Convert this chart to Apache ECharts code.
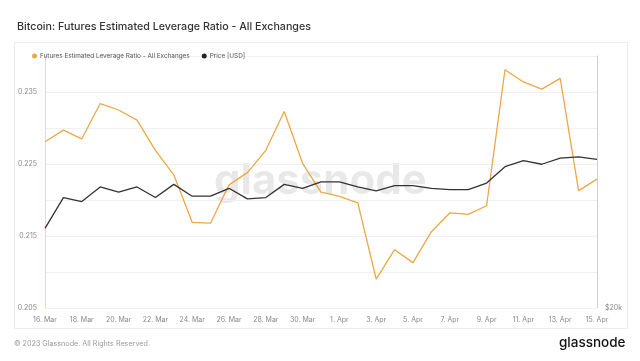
<!DOCTYPE html>
<html>
<head>
<meta charset="utf-8">
<script src="https://cdn.jsdelivr.net/npm/echarts@6/dist/echarts.min.js"></script>
<style>
html,body{margin:0;padding:0;background:#fff;}
#chart{width:640px;height:361px;}
</style>
</head>
<body>
<div id="chart"></div>
<script>
var dates = ['16. Mar','17. Mar','18. Mar','19. Mar','20. Mar','21. Mar','22. Mar','23. Mar','24. Mar','25. Mar','26. Mar','27. Mar','28. Mar','29. Mar','30. Mar','31. Mar','1. Apr','2. Apr','3. Apr','4. Apr','5. Apr','6. Apr','7. Apr','8. Apr','9. Apr','10. Apr','11. Apr','12. Apr','13. Apr','14. Apr','15. Apr'];
var leverage = [0.2281,0.2297,0.2285,0.2334,0.2325,0.2311,0.2269,0.2235,0.2169,0.2168,0.2221,0.2238,0.2269,0.2323,0.2251,0.2211,0.2205,0.2196,0.2090,0.2131,0.2113,0.2156,0.2182,0.2180,0.2192,0.2381,0.2364,0.2354,0.2369,0.2213,0.2229];
var price = [24900,27100,26800,27900,27500,27900,27100,28100,27200,27200,27800,27000,27100,28100,27800,28300,28300,27900,27600,28000,28000,27800,27700,27700,28200,29500,30000,29700,30200,30300,30100];
var leftTicks = ['0.205','0.215','0.225','0.235'];
var rightTicks = ['$20k'];

var chart = echarts.init(document.getElementById('chart'), null, {renderer:'canvas'});
var font = 'Inter, "Noto Sans", sans-serif';
chart.setOption({
  backgroundColor:'#fff',
  animation:false,
  textStyle:{fontFamily:font},
  title:{
    text:'Bitcoin: Futures Estimated Leverage Ratio - All Exchanges',
    left:12, top:16,
    textStyle:{fontSize:10.7, fontWeight:500, color:'#333', fontFamily:font}
  },
  legend:{
    left:27, top:48,
    icon:'circle', itemWidth:5, itemHeight:5, itemGap:12,
    textStyle:{fontSize:6.4, color:'#555', padding:[0,0,0,-2]},
    data:['Futures Estimated Leverage Ratio - All Exchanges','Price [USD]']
  },
  graphic:[
    {type:'rect', z:-10, shape:{x:14.5,y:42.5,width:613,height:286}, style:{fill:'none', stroke:'#ececec', lineWidth:1}},
    {type:'text', z:0, left:214, top:160, style:{text:'glassnode', fontSize:42, fontWeight:'bold', fill:'rgba(0,0,0,0.09)', fontFamily:font}},
    {type:'text', left:14, top:340, style:{text:'\u00a9 2023 Glassnode. All Rights Reserved.', fontSize:7.2, fill:'#9a9a9a', fontFamily:font}},
    {type:'text', left:559, top:336, style:{text:'glassnode', fontSize:13.5, fontWeight:500, fill:'#111', fontFamily:font}}
  ],
  grid:{left:45, right:43, top:56, bottom:53},
  xAxis:{
    type:'category', data:dates, boundaryGap:false,
    axisLine:{show:false}, axisTick:{show:false},
    axisLabel:{interval:1, fontSize:7, color:'#888', margin:8}
  },
  yAxis:[
    {
      type:'value', min:0.205, max:0.240, interval:0.005,
      axisLine:{show:true, lineStyle:{color:'#f3dcaa', width:1}},
      axisTick:{show:false},
      splitLine:{lineStyle:{color:'#f1f1f1'}},
      axisLabel:{fontSize:7, color:'#888', margin:8,
        formatter:function(v){var s=v.toFixed(3);return leftTicks.indexOf(s)>=0?s:'';}}
    },
    {
      type:'log', logBase:2, min:20000, max:40000,
      position:'right',
      axisLine:{show:true, lineStyle:{color:'#d0d0d0', width:1}},
      axisTick:{show:false},
      splitLine:{show:false},
      axisLabel:{fontSize:7, color:'#888', margin:8, showMinLabel:true,
        formatter:function(v){return Math.abs(v-20000)<1?rightTicks[0]:'';}}
    }
  ],
  series:[
    {name:'Futures Estimated Leverage Ratio - All Exchanges', type:'line', data:leverage, yAxisIndex:0,
     symbol:'none', color:'#eba844', lineStyle:{width:1.3, color:'#eba844'}, z:3},
    {name:'Price [USD]', type:'line', data:price, yAxisIndex:1,
     symbol:'none', color:'#222', lineStyle:{width:1.3, color:'#333'}, z:4}
  ]
});
</script>
</body>
</html>
